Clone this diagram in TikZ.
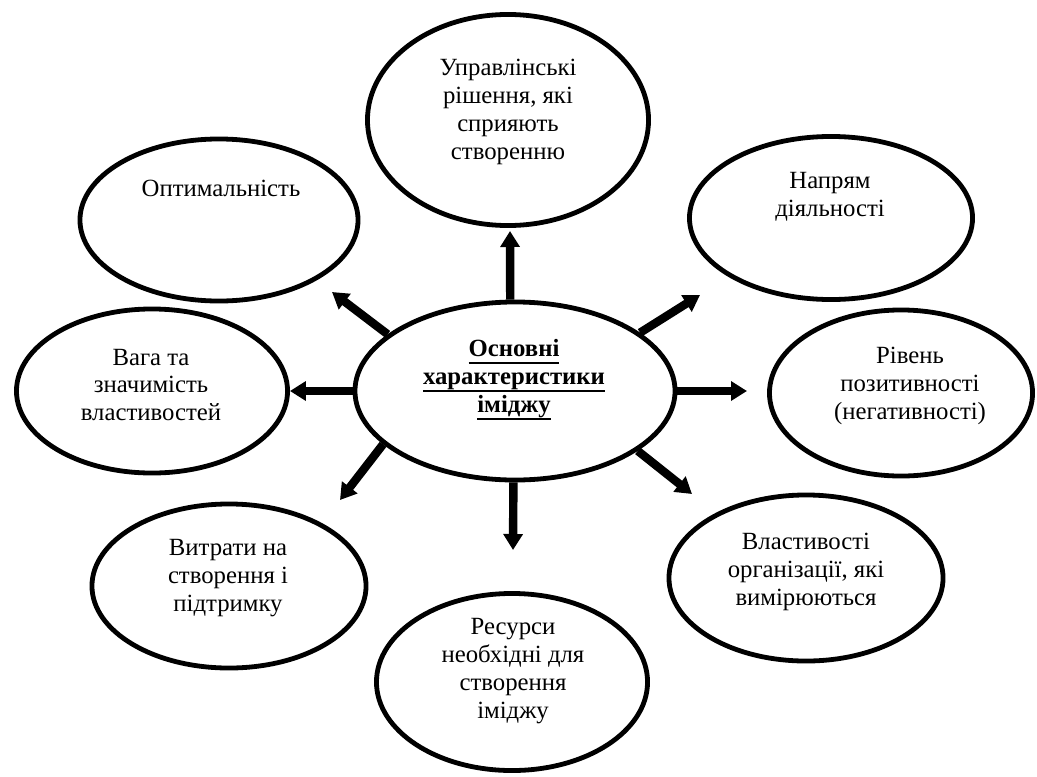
\documentclass[tikz,border=0pt]{standalone}
\usepackage{fontspec}
\setmainfont{Liberation Serif}
\usetikzlibrary{shapes.geometric,arrows.meta}
\newcommand{\thickul}[1]{\setbox0\hbox{#1}\rlap{\rule[-5.5pt]{\wd0}{1.6pt}}\box0}
\tikzset{
  oval/.style={ellipse, draw, line width=0.12cm, inner sep=0pt},
  txt/.style={align=center, font=\fontsize{17.6}{19.9}\selectfont},
  bigarrow/.style={line width=0.21cm, -{Triangle[length=0.4cm,width=0.47cm]}}
}

\begin{document}
\begin{tikzpicture}[x=0.025cm,y=-0.025cm]
  \useasboundingbox (0,0) rectangle (1037,776);

  \node[oval, minimum width=8cm, minimum height=4.45cm] (c) at (515,391) {};
  \node[oval, minimum width=7.025cm, minimum height=5.275cm] (upr) at (508,120) {};
  \node[oval, minimum width=6.95cm, minimum height=4.05cm] (opt) at (219,220) {};
  \node[oval, minimum width=7.075cm, minimum height=4.075cm] (napr) at (831,218) {};
  \node[oval, minimum width=6.775cm, minimum height=4.1cm] (vaha) at (152,391) {};
  \node[oval, minimum width=6.575cm, minimum height=4.15cm] (riv) at (901,393) {};
  \node[oval, minimum width=6.85cm, minimum height=4.1cm] (vytr) at (229,586) {};
  \node[oval, minimum width=6.775cm, minimum height=4.425cm] (res) at (512,682) {};
  \node[oval, minimum width=6.85cm, minimum height=4.15cm] (vlast) at (806,578) {};

  \node[txt, font=\fontsize{17.6}{19.9}\selectfont\bfseries] (cT) at (514,380)
    {\thickul{Основні}\\ \thickul{характеристики}\\ \thickul{іміджу}};
  \node[txt] (uprT) at (508,112) {Управлінські\\ рішення, які\\ сприяють\\ створенню};
  \node[txt] (optT) at (221,188) {Оптимальність};
  \node[txt] (naprT) at (830,197) {Напрям\\ діяльності};
  \node[txt] (vahaT) at (151,385) {Вага та\\ значимість\\ властивостей};
  \node[txt] (rivT) at (910,386) {Рівень\\ позитивності\\ (негативності)};
  \node[txt] (vytrT) at (228,578) {Витрати на\\ створення і\\ підтримку};
  \node[txt] (resT) at (513,671) {Ресурси\\ необхідні для\\ створення\\ іміджу};
  \node[txt] (vlastT) at (806,572) {Властивості\\ організації, які\\ вимірюються};

  \coordinate (tipU) at (510,231);
  \coordinate (tipD) at (513,550);
  \coordinate (tipR) at (747,391);
  \coordinate (tipLU) at (332,292);
  \coordinate (tipRU) at (700,295);
  \coordinate (tipLD) at (340,500);
  \coordinate (tipRD) at (692,494);

  \draw[bigarrow] (c.93) -- (tipU);
  \draw[bigarrow] (c.269) -- (tipD);
  \draw[bigarrow] (c.west) -- (vaha.east);
  \draw[bigarrow] (c.east) -- (tipR);
  \draw[bigarrow] (c.156) -- (tipLU);
  \draw[bigarrow] (c.25) -- (tipRU);
  \draw[bigarrow] (c.202) -- (tipLD);
  \draw[bigarrow] (c.334) -- (tipRD);
\end{tikzpicture}
\end{document}
